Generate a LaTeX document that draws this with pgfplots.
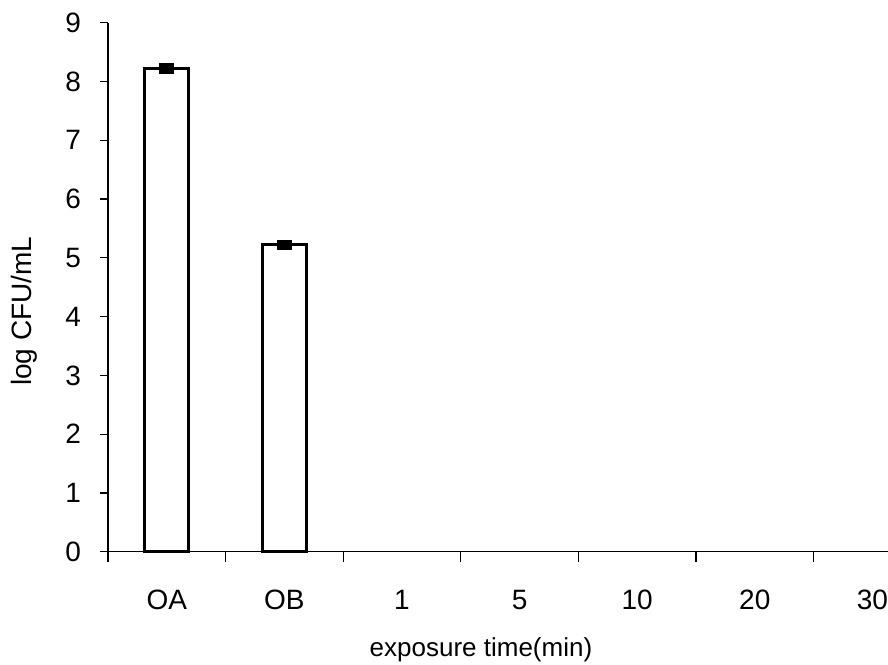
\documentclass[border=0pt]{standalone}
\usepackage{fontspec}
\setmainfont{Liberation Sans}
\usepackage{pgfplots}
\pgfplotsset{compat=1.18}

\begin{document}
\begin{tikzpicture}
% page frame around the axis (axis sits with its lower left corner at the origin)
\path[use as bounding box] (-54pt,-56.5pt) rectangle (390pt,275.85pt);
\begin{axis}[
  scale only axis,
  width=390pt, height=264.5pt,
  xmin=-0.5, xmax=6.133,
  ymin=0, ymax=9,
  axis x line*=bottom, axis y line*=left,
  axis line style={line width=0.6pt},
  tick align=outside,
  xtick={0,...,6},
  xticklabels={OA,OB,1,5,10,20,30},
  major x tick style={draw=none},
  minor xtick={-0.5,0.5,...,5.5},
  minor x tick style={line width=0.6pt, black},
  minor tick length=5pt,
  ytick={0,...,9},
  major tick length=4pt,
  major y tick style={line width=0.6pt, black},
  /pgf/number format/assume math mode=true,
  tick label style={font=\fontsize{14}{16}\selectfont},
  xticklabel style={anchor=base, yshift=-25pt},
  yticklabel style={anchor=east, xshift=-6pt},
  xlabel={exposure time(min)},
  ylabel={log CFU/mL},
  xlabel style={font=\fontsize{13}{15}\selectfont,
    at={(axis description cs:0.5,0)}, anchor=base, xshift=-8.5pt, yshift=-52.5pt},
  ylabel style={font=\fontsize{14}{16}\selectfont, xshift=-12pt, yshift=7pt},
  clip=false,
]
\addplot[
  ybar, bar width=22pt, draw=black, fill=white, line width=1.5pt,
  error bars/.cd, y dir=both, y explicit, error mark=none,
  error bar style={line width=7.5pt, black},
] coordinates {
  (0,8.22) +- (0,0.10)
  (1,5.22) +- (0,0.08)
};
\end{axis}
\end{tikzpicture}
\end{document}
